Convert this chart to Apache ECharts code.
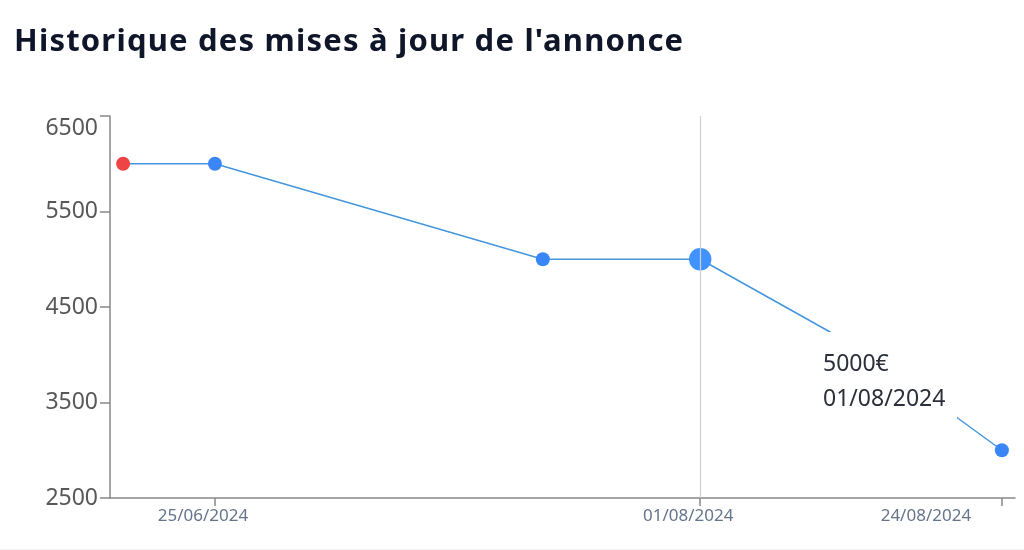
<!DOCTYPE html>
<html>
<head>
<meta charset="utf-8">
<script src="https://cdn.jsdelivr.net/npm/echarts@6/dist/echarts.min.js"></script>
<style>
  html, body { margin: 0; padding: 0; background: #fff; }
  #wrap { width: 1024px; height: 549px; border-bottom: 1px solid #eeeeee; position: relative; }
  #title { position: absolute; left: 14px; top: 19px; margin: 0; font-family: "Noto Sans", "Open Sans", sans-serif; font-weight: 700; font-size: 31px; line-height: 40px; color: #0f1629; letter-spacing: 1.2px; }
  #chart { position: absolute; left: 0; top: 0; width: 1024px; height: 549px; }
</style>
</head>
<body>
<div id="wrap">
  <div id="chart"></div>
  <h1 id="title">Historique des mises à jour de l'annonce</h1>
</div>
<script>
const titleText = "Historique des mises à jour de l'annonce";
const dates = ['2024-06-18', '2024-06-25', '2024-07-20', '2024-08-01', '2024-08-14', '2024-08-24'];
const prices = [6000, 6000, 5000, 5000, 4000, 3000];
const xTickDates = ['2024-06-25', '2024-08-01', '2024-08-24'];
const xMinDate = '2024-06-17';
const xMaxDate = '2024-08-25';
const yTicks = [2500, 3500, 4500, 5500, 6500];
const tipIndex = 3;

function ts(s) { const p = s.split('-').map(Number); return Date.UTC(p[0], p[1] - 1, p[2]); }
function fmt(t) {
  const d = new Date(t);
  const dd = String(d.getUTCDate()).padStart(2, '0');
  const mm = String(d.getUTCMonth() + 1).padStart(2, '0');
  return dd + '/' + mm + '/' + d.getUTCFullYear();
}
const lastTick = ts(xTickDates[xTickDates.length - 1]);
const yMax = yTicks[yTicks.length - 1];

const seriesData = dates.map((d, i) => {
  const item = { value: [ts(d), prices[i]] };
  if (i === 0) item.itemStyle = { color: '#ef4444' };
  return item;
});

const chart = echarts.init(document.getElementById('chart'), null, { renderer: 'canvas' });
chart.setOption({
  animation: false,
  grid: { left: 110, right: 9, top: 116, bottom: 51, containLabel: false },
  tooltip: {
    trigger: 'axis',
    alwaysShowContent: true,
    backgroundColor: '#ffffff',
    borderWidth: 0,
    padding: [13, 12, 9, 11],
    extraCssText: 'box-shadow:none;border-radius:0;',
    textStyle: { fontFamily: 'Noto Sans', fontSize: 23, color: '#2b2f3a' },
    axisPointer: { type: 'line', lineStyle: { color: '#d0d0d0', width: 1.2, type: 'solid' } },
    position: function (point) { return [point[0] + 112, point[1] + 73]; },
    formatter: function (params) {
      const p = params[0];
      return '<div style="line-height:35px;font-family:Noto Sans;font-size:23px;color:#2b2f3a">' + p.value[1] + '€<br/>' + fmt(p.value[0]) + '</div>';
    }
  },
  xAxis: {
    type: 'value',
    min: ts(xMinDate),
    max: ts(xMaxDate),
    splitLine: { show: false },
    axisLine: { lineStyle: { color: '#888888', width: 1.5 } },
    axisTick: { show: true, length: 8, lineStyle: { color: '#888888', width: 1.5 }, customValues: xTickDates.map(ts) },
    axisPointer: { snap: true },
    axisLabel: {
      customValues: xTickDates.map(ts),
      color: '#64748b', margin: 10,
      hideOverlap: false,
      formatter: function (v) {
        return v === lastTick ? '{last|' + fmt(v) + '}' : '{norm|' + fmt(v) + '}';
      },
      rich: {
        norm: { fontFamily: 'Noto Sans', fontSize: 17, color: '#64748b', padding: [0, 24, 0, 0] },
        last: { fontFamily: 'Noto Sans', fontSize: 17, color: '#64748b', padding: [0, 152, 0, 0] }
      }
    }
  },
  yAxis: {
    type: 'value',
    min: yTicks[0],
    max: yMax,
    interval: 1000,
    splitLine: { show: false },
    axisLine: { show: true, lineStyle: { color: '#888888', width: 1.5 } },
    axisTick: { show: true, length: 10, lineStyle: { color: '#888888', width: 1.5 } },
    axisLabel: {
      color: '#585858', margin: 12,
      formatter: function (v) { return v === yMax ? '{top|' + v + '}' : '{norm|' + v + '}'; },
      rich: {
        norm: { fontFamily: 'Noto Sans', fontSize: 23, color: '#585858' },
        top: { fontFamily: 'Noto Sans', fontSize: 23, color: '#585858', padding: [24, 0, 0, 0] }
      }
    }
  },
  series: [{
    type: 'line',
    data: seriesData,
    symbol: 'circle',
    symbolSize: 14,
    showAllSymbol: true,
    lineStyle: { color: '#3f89c9', width: 1.5 },
    itemStyle: { color: '#3b86f7', borderWidth: 0 },
    emphasis: { scale: 1.6, itemStyle: { borderWidth: 0 } }
  }]
});
chart.dispatchAction({ type: 'showTip', seriesIndex: 0, dataIndex: tipIndex });
</script>
</body>
</html>
